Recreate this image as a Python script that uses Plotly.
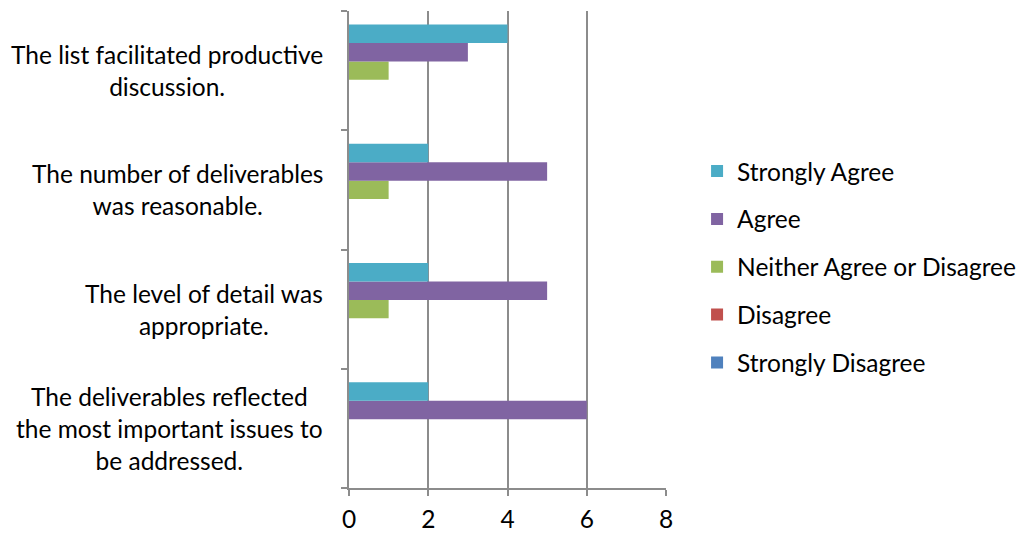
import plotly.graph_objects as go

# Categories, bottom to top (line breaks mark the wrap points)
categories = [
    "The deliverables reflected<br>the most important issues to<br>be addressed.",
    "The level of detail was<br>appropriate.",
    "The number of deliverables<br>was reasonable.",
    "The list facilitated productive<br>discussion.",
]

strongly_disagree = [0, 0, 0, 0]
disagree = [0, 0, 0, 0]
neither = [0, 1, 1, 1]
agree = [6, 5, 5, 3]
strongly_agree = [2, 2, 2, 4]

series_names = ["Strongly Disagree", "Disagree", "Neither Agree or Disagree", "Agree", "Strongly Agree"]
series_values = [strongly_disagree, disagree, neither, agree, strongly_agree]
series_colors = ["#4F81BD", "#C0504D", "#9BBB59", "#8064A2", "#4BACC6"]

x_ticks = [0, 2, 4, 6, 8]

FONT = "Lato"
FS = 24.5

fig = go.Figure()
for i, (name, vals, col) in enumerate(zip(series_names, series_values, series_colors)):
    fig.add_trace(go.Bar(
        y=categories, x=vals, name=name, orientation="h",
        marker=dict(color=col, line=dict(width=0)),
        legendgroup=name, legendrank=100 - i,
    ))

for cat in categories:
    fig.add_annotation(
        x=-0.076, xref="paper", y=cat, yref="y",
        text=cat, showarrow=False, xanchor="right", yanchor="middle",
        align="center", font=dict(family=FONT, size=FS, color="#000000"),
    )

fig.update_layout(
    width=1021, height=533,
    margin=dict(l=349, r=355, t=11, b=45, autoexpand=False),
    paper_bgcolor="white", plot_bgcolor="white",
    barmode="group", bargap=0.225, bargroupgap=0,
    font=dict(family=FONT, size=FS, color="#000000"),
    showlegend=True,
    legend=dict(
        x=1.098, xanchor="left", y=0.463, yanchor="middle",
        traceorder="grouped", tracegroupgap=13,
        font=dict(family=FONT, size=FS, color="#000000"),
        bgcolor="rgba(0,0,0,0)", itemclick=False,
    ),
    xaxis=dict(
        range=[0, 8], tickvals=x_ticks, ticktext=[str(t) for t in x_ticks],
        showgrid=True, gridcolor="#8C8C8C", gridwidth=1.5,
        showline=True, linecolor="#8C8C8C", linewidth=1.5,
        ticks="outside", ticklen=6, tickcolor="#8C8C8C", tickwidth=1.5,
        ticklabelstandoff=3, zeroline=False,
        tickfont=dict(family=FONT, size=FS, color="#000000"),
    ),
    yaxis=dict(
        type="category", categoryorder="array", categoryarray=categories,
        showticklabels=False, showgrid=False, zeroline=False,
        showline=True, linecolor="#8C8C8C", linewidth=1.5,
        ticks="outside", tickson="boundaries", ticklen=6,
        tickcolor="#8C8C8C", tickwidth=1.5,
    ),
)

fig.write_html(
    "out.html",
    config={"displayModeBar": False},
    post_script="document.body.style.margin='0';document.body.style.overflow='hidden';",
)
